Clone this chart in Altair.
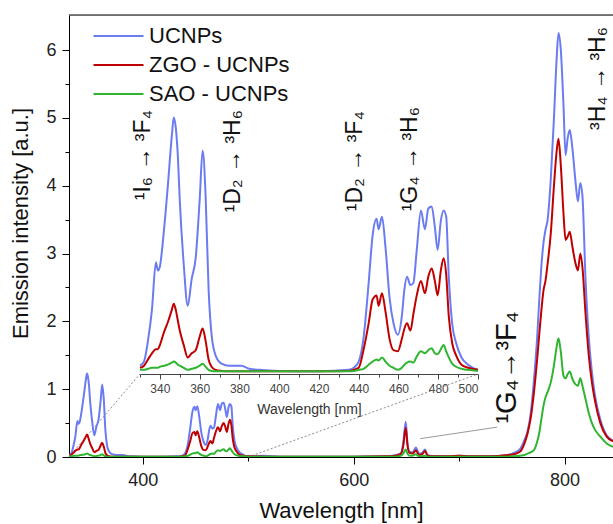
import altair as alt
import pandas as pd

# ---------------- data ----------------
wavelength = [330, 332, 334, 336, 338, 339, 340, 342, 344, 346, 347, 348, 349, 350, 352, 354, 356, 358, 360, 361.5,
              363, 364.5, 366, 368, 371, 375, 378, 381, 385, 390, 400, 420, 435, 437.5, 440, 442.5, 445, 447, 449, 450,
              451.7, 453.5, 455.5, 457.5, 459.7, 461.7, 463, 464.3, 466, 467.5, 469.2, 471.3, 473.3, 475, 476.7, 478.3,
              479.7, 481.3, 482.7, 484, 485.3, 487, 489, 491.7, 495, 500, 515, 530, 560, 600, 630, 640, 645, 647, 649.4,
              651, 653, 656, 659, 662, 665, 667.7, 670, 675, 690, 700, 710, 730, 745, 752, 758, 762, 765, 768, 771,
              774, 776, 778, 780, 782, 784, 787, 790, 792.5, 794.3, 796.5, 799, 801, 803, 805, 807.5, 810.5, 812.7, 815,
              817, 820, 823, 826, 829, 834, 840, 846]

ucnps = [0.03, 0.05, 0.15, 0.30, 0.53, 0.49, 0.51, 0.68, 0.90, 1.14, 1.23, 1.18, 1.05, 0.83, 0.52, 0.32, 0.45, 0.55, 0.83, 1.07,
         0.85, 0.40, 0.18, 0.08, 0.04, 0.03, 0.03, 0.03, 0.015, 0.01, 0.005, 0.003, 0.01, 0.02, 0.05, 0.17, 0.43, 0.66, 0.74, 0.69,
         0.75, 0.60, 0.36, 0.235, 0.18, 0.27, 0.40, 0.46, 0.42, 0.43, 0.59, 0.78, 0.69, 0.79, 0.80, 0.70,
         0.59, 0.73, 0.78, 0.75, 0.46, 0.235, 0.14, 0.07, 0.035, 0.01, 0.02, 0.005, 0.003, 0.003, 0.01, 0.03, 0.06, 0.20, 0.52,
         0.22, 0.08, 0.07, 0.14, 0.05, 0.06, 0.11, 0.03, 0.015, 0.01, 0.02, 0.01, 0.01, 0.03, 0.06, 0.12, 0.25, 0.38, 0.65, 1.13,
         1.75, 2.30, 2.80, 3.15, 3.35, 3.50, 4.10, 5.00, 5.86, 6.25, 6.00, 5.20, 4.45, 4.70, 4.82, 4.55, 4.05, 3.77, 4.04,
         3.85, 2.60, 1.77, 1.25, 0.90, 0.55, 0.32, 0.24]

zgo_ucnps = [0.02, 0.03, 0.06, 0.09, 0.11, 0.11, 0.13, 0.19, 0.24, 0.30, 0.33, 0.30, 0.25, 0.20, 0.13, 0.07, 0.09, 0.105, 0.17, 0.21,
             0.15, 0.06, 0.025, 0.01, 0.005, 0.003, 0.003, 0.003, 0.003, 0.003, 0.003, 0.003, 0.005, 0.01, 0.02, 0.11, 0.235, 0.35, 0.37, 0.32,
             0.38, 0.29, 0.16, 0.105, 0.10, 0.16, 0.21, 0.235, 0.20, 0.28, 0.37, 0.44, 0.38, 0.46, 0.50, 0.44,
             0.37, 0.49, 0.55, 0.47, 0.27, 0.14, 0.08, 0.035, 0.02, 0.01, 0.005, 0.003, 0.003, 0.003, 0.01, 0.02, 0.05, 0.16, 0.43,
             0.18, 0.06, 0.05, 0.10, 0.03, 0.04, 0.09, 0.02, 0.01, 0.01, 0.02, 0.01, 0.01, 0.025, 0.04, 0.08, 0.20, 0.35, 0.58, 0.95,
             1.43, 1.80, 2.15, 2.45, 2.60, 2.85, 3.30, 4.00, 4.50, 4.69, 4.30, 3.60, 3.20, 3.25, 3.32, 3.10, 2.85, 2.75, 3.00,
             2.80, 2.10, 1.50, 1.10, 0.82, 0.50, 0.30, 0.23]

sao_ucnps = [0.01, 0.01, 0.015, 0.02, 0.02, 0.02, 0.025, 0.03, 0.035, 0.045, 0.05, 0.045, 0.035, 0.03, 0.02, 0.01, 0.015, 0.02, 0.03, 0.04,
             0.025, 0.01, 0.005, 0.003, 0.003, 0.003, 0.003, 0.003, 0.003, 0.003, 0.003, 0.003, 0.003, 0.005, 0.01, 0.015, 0.035, 0.05, 0.06, 0.055,
             0.07, 0.05, 0.03, 0.02, 0.01, 0.02, 0.035, 0.045, 0.05, 0.045, 0.075, 0.10, 0.09, 0.105, 0.115, 0.09,
             0.085, 0.11, 0.13, 0.10, 0.07, 0.04, 0.025, 0.015, 0.01, 0.005, 0.003, 0.003, 0.003, 0.003, 0.003, 0.005, 0.02, 0.05, 0.11,
             0.05, 0.02, 0.02, 0.04, 0.01, 0.01, 0.02, 0.005, 0.003, 0.003, 0.005, 0.003, 0.003, 0.005, 0.01, 0.02, 0.03, 0.05, 0.07, 0.10,
             0.22, 0.35, 0.55, 0.75, 0.88, 0.96, 1.10, 1.35, 1.62, 1.75, 1.55, 1.20, 1.16, 1.22, 1.26, 1.15, 1.07, 1.05, 1.16,
             1.05, 0.85, 0.65, 0.50, 0.40, 0.30, 0.20, 0.15]

series_names = ["UCNPs", "ZGO - UCNPs", "SAO - UCNPs"]
series_colors = ["#6b7cf2", "#c00000", "#2fb52f"]

# transition labels (rotated), positions in data units of the main plot
ann_text = ["¹I₆ → ³F₄", "¹D₂ → ³H₆", "¹D₂ → ³F₄", "¹G₄ → ³H₆", "³H₄ → ³H₆", "¹G₄→³F₄"]
ann_wl = [400.2, 485.9, 601.3, 653.5, 832.1, 745.2]
ann_int = [4.45, 4.36, 4.36, 4.39, 5.58, 1.32]
ann_size = [23, 23, 23, 23, 23, 29]

# pointer for the 1G4 -> 3F4 label
pointer_wl = [663, 736]
pointer_int = [0.27, 0.44]

# ---------------- layout ----------------
W, H = 544, 442
X_DOM = [330, 846]
Y_DOM = [0, 6.516]
INSET_X_DOM = [330, 500]
INSET_X_RANGE = [71, 409]
INSET_Y_DOM = [-0.01, 1.30]
INSET_Y_RANGE = [359, 88]
FONT = "Liberation Sans"

rows = []
for name, vals in zip(series_names, [ucnps, zgo_ucnps, sao_ucnps]):
    for w, v in zip(wavelength, vals):
        rows.append({"wl": w, "I": v, "series": name})
df = pd.DataFrame(rows)
inset_df = df[df["wl"] <= INSET_X_DOM[1]]

x_scale = alt.Scale(domain=X_DOM, nice=False, zero=False)
y_scale = alt.Scale(domain=Y_DOM, nice=False, zero=False)

x_axis = alt.Axis(
    values=[400, 500, 600, 700, 800],
    labelExpr="datum.value % 200 == 0 ? datum.label : ''",
    tickSize={"condition": {"test": "datum.value % 200 != 0", "value": 4}, "value": 7},
    title="Wavelength [nm]", grid=False, labelFontSize=18, titleFontSize=22,
    labelPadding=7, titlePadding=11, titleFontWeight="normal",
    domainColor="#000", tickColor="#000", labelColor="#222", titleColor="#111",
)
y_axis = alt.Axis(
    values=[i * 0.5 for i in range(13)],
    labelExpr="datum.value % 1 == 0 ? format(datum.value, 'd') : ''",
    tickSize={"condition": {"test": "datum.value % 1 != 0", "value": 4}, "value": 7},
    title="Emission intensity [a.u.]", grid=False, labelFontSize=18, titleFontSize=22,
    labelPadding=6, titleFontWeight="normal", titleX=-49, titleY=208,
    titleAngle=270, titleAlign="center", titleBaseline="middle",
    domainColor="#000", tickColor="#000", labelColor="#222", titleColor="#111",
)

color = alt.Color(
    "series:N",
    scale=alt.Scale(domain=series_names, range=series_colors),
    legend=alt.Legend(
        title=None, orient="none", legendX=38.5, legendY=10,
        symbolType="M-5,0H5", symbolSize=100, symbolStrokeWidth=2,
        labelFontSize=22, labelOffset=19.5, rowPadding=7, labelColor="#111",
        labelFont=FONT, padding=0,
    ),
)

main_lines = alt.Chart(df).mark_line(strokeWidth=2, interpolate="monotone", clip=True).encode(
    x=alt.X("wl:Q", scale=x_scale, axis=x_axis),
    y=alt.Y("I:Q", scale=y_scale, axis=y_axis),
    color=color,
)

ann_df = pd.DataFrame({"wl": ann_wl, "I": ann_int, "t": ann_text, "fs": ann_size})
annotations = alt.Chart(ann_df).mark_text(angle=270, align="center", baseline="middle", font=FONT, color="#111").encode(
    x=alt.X("wl:Q", scale=x_scale, axis=x_axis),
    y=alt.Y("I:Q", scale=y_scale, axis=y_axis),
    text="t:N",
    size=alt.Size("fs:Q", scale=None, legend=None),
)

ptr_df = pd.DataFrame({"wl": [pointer_wl[0]], "I": [pointer_int[0]], "wl2": [pointer_wl[1]], "I2": [pointer_int[1]]})
pointer = alt.Chart(ptr_df).mark_rule(color="#9a9a9a", strokeWidth=1).encode(
    x=alt.X("wl:Q", scale=x_scale, axis=x_axis),
    y=alt.Y("I:Q", scale=y_scale, axis=y_axis),
    x2="wl2:Q", y2="I2:Q",
)

# dotted lines linking the zoomed region of the main plot to the inset corners
px_per_nm = W / (X_DOM[1] - X_DOM[0])
px_per_unit = H / (Y_DOM[1] - Y_DOM[0])
corner_I = (H - INSET_Y_RANGE[0]) / px_per_unit
conn_df = pd.DataFrame({
    "wl": INSET_X_DOM,
    "I": [0, 0],
    "wl2": [X_DOM[0] + r / px_per_nm for r in INSET_X_RANGE],
    "I2": [corner_I, corner_I],
})
connectors = alt.Chart(conn_df).mark_rule(color="#8a8a8a", strokeWidth=1, strokeDash=[2, 2]).encode(
    x=alt.X("wl:Q", scale=x_scale, axis=x_axis),
    y=alt.Y("I:Q", scale=y_scale, axis=y_axis),
    x2="wl2:Q", y2="I2:Q",
)

top_border = alt.Chart(pd.DataFrame({"a": [0]})).mark_rule(color="#000", strokeWidth=1).encode(
    x=alt.value(0), x2=alt.value(W), y=alt.value(0),
)

main_layer = alt.layer(connectors, main_lines, pointer, annotations, top_border)

inset_axis = alt.Axis(
    orient="bottom", offset=INSET_Y_RANGE[0] - H,
    values=list(range(330, 501, 10)),
    labelExpr="datum.value % 20 == 0 && datum.value >= 340 ? datum.label : ''",
    tickSize={"condition": {"test": "datum.value % 20 != 0", "value": 3}, "value": 5},
    title="Wavelength [nm]", grid=False, labelFontSize=12, titleFontSize=14,
    labelPadding=4, titlePadding=8, titleFontWeight="normal",
    domainColor="#444", tickColor="#444", labelColor="#444", titleColor="#333",
    labelFont=FONT, titleFont=FONT,
)
inset_lines = alt.Chart(inset_df).mark_line(strokeWidth=2, interpolate="monotone").encode(
    x=alt.X("wl:Q", scale=alt.Scale(domain=INSET_X_DOM, range=INSET_X_RANGE, nice=False, zero=False), axis=inset_axis),
    y=alt.Y("I:Q", scale=alt.Scale(domain=INSET_Y_DOM, range=INSET_Y_RANGE, nice=False, zero=False), axis=None),
    color=color,
)

chart = alt.layer(main_layer, inset_lines).resolve_scale(
    x="independent", y="independent"
).properties(
    width=W, height=H, autosize="none",
    padding={"left": 69, "top": 15, "right": 0, "bottom": 67},
).configure_view(stroke=None).configure(
    font=FONT,
).configure_axis(labelFont=FONT, titleFont=FONT)

chart.save("out.html", embed_options={"renderer": "svg", "actions": False})
